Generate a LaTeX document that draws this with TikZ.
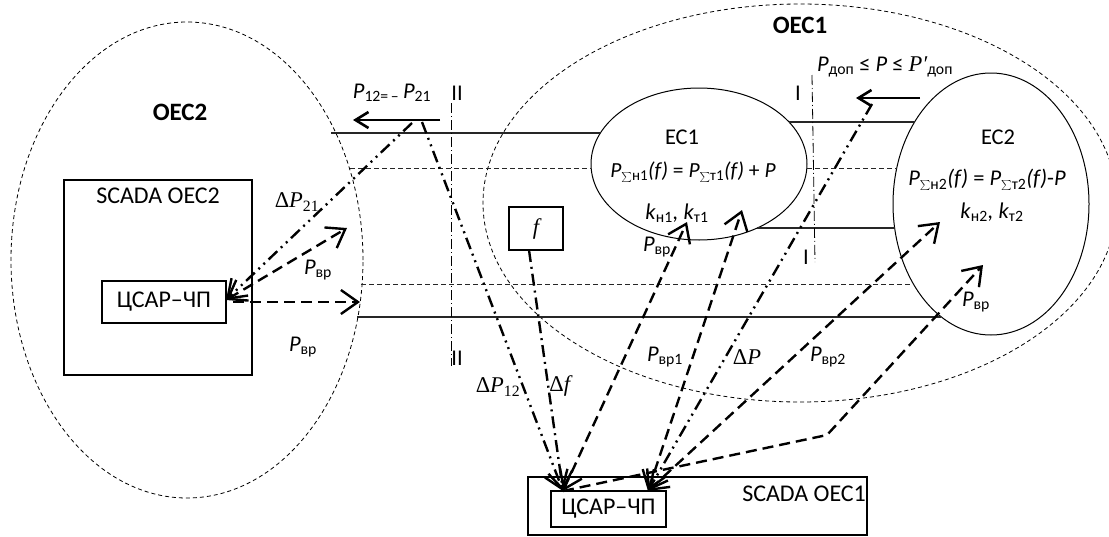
\documentclass[tikz,border=0pt]{standalone}
\usepackage{fontspec}
\setmainfont{Carlito}
\newfontfamily\cmb{Liberation Serif}
\usetikzlibrary{arrows.meta,shapes.geometric}
\newcommand{\Pit}[1]{\textit{P}\textsubscript{#1}}
\newcommand{\Dl}[1]{{\cmb Δ\textit{#1}}}
\begin{document}
\begin{tikzpicture}[x=1pt,y=-1pt,
  every node/.style={font=\fontsize{22.5}{26}\selectfont, inner sep=0pt},
  oec/.style={draw, ellipse, line width=0.8pt, dash pattern=on 4pt off 3pt},
  ec/.style={draw, ellipse, line width=1pt},
  box/.style={draw, line width=1.6pt},
  bus/.style={line width=1.2pt, draw=black!85},
  busd/.style={line width=1pt, dash pattern=on 5pt off 3pt, draw=black!85},
  sect/.style={line width=0.8pt, dash pattern=on 10pt off 3pt on 1pt off 3pt},
  sig/.style={line width=2.4pt, dash pattern=on 11pt off 6pt},
  sigdd/.style={line width=2.4pt, dash pattern=on 12pt off 5pt on 2pt off 5pt on 2pt off 5pt},
  sigd/.style={line width=2.4pt, dash pattern=on 12pt off 5pt on 2pt off 5pt},
  flow/.style={line width=2.6pt, -{Straight Barb[length=13pt,width=16pt]}},
  >={Straight Barb[length=17pt,width=24pt]},
  lbl/.style={font=\fontsize{22.5}{26}\selectfont},
  big/.style={font=\fontsize{24}{28}\selectfont},
  eq/.style={font=\fontsize{21.5}{26}\selectfont},
  bold/.style={font=\bfseries\fontsize{25}{30}\selectfont},
]
\useasboundingbox (0,0) rectangle (1109,536);
\clip (0,0) rectangle (1109,536);

% system ellipses
\node[oec, minimum width=352pt, minimum height=476pt] (oec2) at (187,260) {};
\node[oec, minimum width=634pt, minimum height=398pt] (oec1) at (800,203) {};
\node[ec, minimum width=216pt, minimum height=152pt] (ec1) at (699,164) {};
\node[ec, minimum width=196pt, minimum height=262pt] (ec2) at (991,204) {};

% buses
\draw[bus] (331,133) -- (600,133);
\draw[busd] (350,168) -- (591,168);
\draw[bus] (789,122) -- (915,122);
\draw[busd] (807,168) -- (897,168);
\draw[bus] (757,228) -- (895,228);
\draw[busd] (361,284) -- (913,284);
\draw[bus] (357,317) -- (941,317);

% sections
\draw[sect] (451,103) -- (451,366);
\draw[sect] (812,75) -- (815,262);
\node[lbl] (s2a) at (457,93) {II};
\node[lbl] (s2b) at (457,358) {II};
\node[lbl] (s1a) at (798,93) {I};
\node[lbl] (s1b) at (806,257) {I};

% boxes
\node[box, minimum width=188pt, minimum height=195pt] (scada2) at (158,277.5) {};
\node[big] (scada2t) at (158,196) {SCADA ОЕС2};
\node[box, big, minimum width=124pt, minimum height=42pt] (csar2) at (164,302) {ЦСАР–ЧП};
\node[box, minimum width=339pt, minimum height=58pt] (scada1) at (697.5,506) {};
\node[big] (scada1t) at (804,494) {SCADA ОЕС1};
\node[box, big, minimum width=115pt, minimum height=36pt] (csar1) at (608.5,509) {ЦСАР–ЧП};
\node[box, minimum width=54pt, minimum height=43pt] (fbox) at (536,228.5) {{\cmb\itshape f}};

% titles and texts
\node[bold] (t2) at (180,112) {ОЕС2};
\node[bold] (t1) at (800,25) {ОЕС1};
\node[lbl] (ec1t) at (682,137) {ЕС1};
\node[eq] (ec1e) at (693,172) {\Pit{$\sum$н1}\textit{(f)} = \Pit{$\sum$т1}\textit{(f)} + \textit{P}};
\node[lbl] (ec1k) at (677,213) {\textit{k}\textsubscript{н1}\textit{,} \textit{k}\textsubscript{т1}};
\node[lbl] (ec2t) at (998,137) {ЕС2};
\node[lbl] (ec2e) at (987,180) {\Pit{$\sum$н2}\textit{(f)} = \Pit{$\sum$т2}\textit{(f)}-\textit{P}};
\node[lbl] (ec2k) at (992,212) {\textit{k}\textsubscript{н2}\textit{,} \textit{k}\textsubscript{т2}};
\node[lbl] (p12) at (392,93) {\textit{P}\textsubscript{12=\,–}\,\textit{P}\textsubscript{21}};
\node[lbl] (pdop) at (885,67) {\Pit{доп} ≤ \textit{P} ≤ {\cmb\itshape P′}\textsubscript{доп}};

% flow arrows
\coordinate (f12s) at (440,120);
\coordinate (f12e) at (353,120);
\draw[flow] (f12s) -- (f12e);
\coordinate (fps) at (920,98);
\coordinate (fpe) at (856,98);
\draw[flow] (fps) -- (fpe);

% signal endpoints
\coordinate (d21) at (412,123);
\coordinate (pv2) at (347,228);
\coordinate (pvh) at (360,302);
\coordinate (c2e) at (226,300);
\coordinate (c2h) at (233,302);
\coordinate (c1a) at (563,491);
\coordinate (c1b) at (648,491);
\coordinate (d12) at (422,122);
\coordinate (fb) at (529,250);
\coordinate (e1a) at (687,222);
\coordinate (e1b) at (742,210);
\coordinate (dp) at (872,104);
\coordinate (e2a) at (940,222);
\coordinate (bend) at (827,435);
\coordinate (e2b) at (983,265);

% OEC2 signals
\draw[sigdd,->] (d21) -- (c2e);
\draw[sig,<->] (c2e) -- (pv2);
\draw[sig,->] (c2h) -- (pvh);
\node[lbl] (l21) at (297,202) {\Dl{P}\textsubscript{\cmb 21}};
\node[lbl] (lpv2) at (318,270) {\Pit{вр}};
\node[lbl] (lpvh) at (303,347) {\Pit{вр}};

% OEC1 signals
\draw[sigdd,->] (d12) -- (c1a);
\draw[sigd,->] (fb) -- (c1a);
\draw[sig,<->] (c1a) -- (e1a);
\draw[sig,<->] (c1b) -- (e1b);
\draw[sigdd,->] (dp) -- (c1b);
\draw[sig,<->] (c1b) -- (e2a);
\draw[sig,->] (c1a) -- (bend) -- (e2b);

\node[lbl] (l12) at (498,387) {\Dl{P}\textsubscript{\cmb 12}};
\node[lbl] (ldf) at (561,386) {\Dl{f}};
\node[lbl] (lpv1) at (665,357) {\Pit{вр1}};
\node[lbl] (ldp) at (747,357) {\Dl{P}};
\node[lbl] (lpv2b) at (828,357) {\Pit{вр2}};
\node[lbl] (lpve1) at (657,247) {\Pit{вр}};
\node[lbl] (lpve2) at (976,302) {\Pit{вр}};
\end{tikzpicture}
\end{document}
